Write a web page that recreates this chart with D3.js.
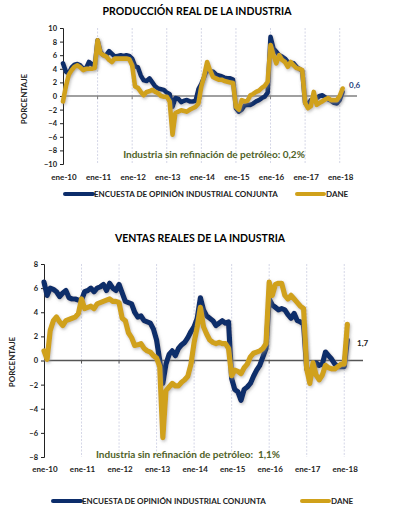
<!DOCTYPE html>
<meta charset="utf-8">
<style>
body { margin: 0; background: #fff; }
text { font-family: Lato, "Open Sans", sans-serif; }
</style>
<body>
<div class="chart"></div>
</body>
<script src="https://cdn.jsdelivr.net/npm/d3@7"></script>
<script>

var yearLabels = ["ene-10", "ene-11", "ene-12", "ene-13", "ene-14", "ene-15", "ene-16", "ene-17", "ene-18"];

// produccion real (monthly, ene-10 .. feb-18)
var prodEncuesta = [
  4.8, 3.6, 3.3, 4.2, 4.6, 4.7, 4.5, 4.0, 4.1, 5.0, 4.7, 4.3,
  8.2, 6.5, 6.0, 6.0, 6.6, 6.2, 5.8, 5.9, 6.0, 5.9, 6.0, 5.9,
  5.5, 4.4, 4.2, 3.0, 2.3, 2.2, 2.6, 2.0, 1.4, 1.1, 1.0, 0.9,
  0.5, 0.3, -1.6, -0.3, -0.4, -0.9, -0.7, -0.6, -0.8, -0.8, -0.7, 1.0,
  1.8, 2.8, 4.0, 3.6, 3.6, 3.2, 3.0, 2.9, 2.7, 2.6, 2.6, 2.4,
  -1.8, -2.3, -2.0, -1.4, -1.3, -1.3, -1.1, -0.8, -0.6, -0.3, -0.1, 0.5,
  8.7, 7.0, 6.5, 6.0, 5.8, 5.5, 5.0, 4.9, 4.8, 4.3, 4.0, 3.7,
  -1.0, -1.2, -0.6, -0.4, -0.3, 0.0, 0.1, -0.2, -0.5, -0.7, -1.0, -1.1,
  -0.6, 0.6
];
var prodDane = [
  -0.8, 1.4, 3.1, 3.8, 4.3, 4.5, 4.2, 3.8, 4.0, 4.0, 4.0, 4.1,
  8.2, 6.3, 6.0, 5.8, 5.3, 5.0, 5.5, 5.5, 5.5, 5.5, 5.5, 5.4,
  4.5, 1.4, 1.2, 0.6, 0.1, 0.6, 0.7, 0.9, 0.6, 0.4, 0.0, -0.1,
  -0.1, -0.8, -5.7, -2.5, -2.3, -2.1, -2.2, -2.3, -2.0, -1.8, -1.6, -1.1,
  1.4, 3.0, 5.0, 3.8, 2.8, 2.6, 2.4, 2.4, 2.2, 2.1, 2.0, 1.9,
  -1.6, -2.0, -0.6, -0.8, -0.7, 0.1, 0.3, 0.6, 0.8, 1.2, 1.5, 2.1,
  7.5, 6.0, 4.8, 6.0, 5.3, 5.0, 4.3, 5.0, 4.5, 4.1, 4.0, 3.8,
  -1.0, -1.8, -1.5, 0.6, -1.3, -1.0, -0.8, -0.5, -0.3, -0.6, -0.6, -0.6,
  0.0, 1.1
];

// ventas reales
var ventEncuesta = [
  6.5, 5.4, 6.0, 5.9, 5.7, 5.3, 5.6, 5.8, 5.2, 5.1, 5.1, 5.0,
  5.0, 5.7, 5.8, 6.0, 5.7, 6.0, 6.1, 6.3, 5.8, 6.4, 6.0, 5.8,
  6.3, 5.6, 4.9, 4.8, 4.7, 4.0, 3.6, 3.7, 3.3, 3.2, 3.1, 2.6,
  1.7, 0.0, -1.9, -0.3, 0.5, 0.8, 0.4, 1.0, 1.3, 1.5, 1.9, 2.4,
  2.8, 3.5, 5.2, 4.2, 3.7, 3.5, 3.3, 2.9, 3.1, 3.3, 3.1, 3.2,
  -1.5, -2.4, -2.6, -3.3, -2.4, -2.2, -1.9, -1.3, -0.8, -0.4, 0.3, 1.0,
  5.1, 4.6, 4.4, 4.2, 4.3, 4.2, 3.8, 3.5, 3.9, 3.3, 3.2, 3.0,
  -0.7, -0.8, -1.0, -0.2, -0.4, -0.3, 0.7, 0.4, 0.1, -0.3, -0.5, -0.5,
  -0.5, 1.7
];
var ventDane = [
  0.8, 0.1, 2.5, 3.3, 3.6, 3.2, 2.9, 3.3, 3.4, 3.5, 3.6, 3.9,
  5.1, 4.3, 4.4, 4.5, 4.3, 4.7, 4.8, 4.9, 5.0, 5.1, 4.9, 4.9,
  4.8, 3.5, 3.3, 2.3, 1.9, 1.25, 1.3, 1.4, 1.0, 0.8, 0.7, 0.4,
  0.2, -0.5, -6.4, -2.5, -2.2, -1.9, -2.1, -2.1, -1.8, -1.6, -1.3, -0.3,
  1.5, 2.8, 4.4, 2.8, 2.2, 1.7, 1.5, 1.4, 1.5, 1.4, 1.4, 1.0,
  -1.25, -0.8, -0.9, -1.1, -0.6, -0.3, 0.3, 0.6, 0.7, 0.8, 1.0, 1.4,
  6.5, 5.4, 6.3, 6.4, 6.4, 5.4, 5.1, 5.4, 5.1, 4.8, 4.5, 4.3,
  -0.7, -1.9, -0.2, -1.2, -1.6, -1.2, -0.4, -0.6, -0.7, -0.7, -0.5, -0.3,
  -0.3, 3.0
];

var blue = "#0c2d6b", gold = "#d0a11a", olive = "#4f6228";

var svg = d3.select(".chart").append("svg")
    .attr("width", 394)
    .attr("height", 521);

var defs = svg.append("defs");
var f = defs.append("filter").attr("id", "glow")
    .attr("x", "-5%").attr("y", "-10%").attr("width", "110%").attr("height", "120%");
f.append("feDropShadow").attr("dx", 1).attr("dy", 1.5)
    .attr("stdDeviation", 1.6).attr("flood-color", "#8a8a8a").attr("flood-opacity", 0.55);

function drawChart(cfg) {
  var g = svg.append("g");
  var x = d3.scaleLinear().domain([0, 102]).range([cfg.left, cfg.right]);
  var y = d3.scaleLinear().domain([-cfg.max, cfg.max]).range([cfg.bottom, cfg.top]);

  g.append("text")
      .attr("x", cfg.titleX).attr("y", cfg.titleY)
      .attr("text-anchor", "middle")
      .style("font-size", "10.5px").style("font-weight", "bold")
      .text(cfg.title);

  // year gridlines
  g.selectAll(".grid").data(yearLabels.slice(1)).enter().append("line")
      .attr("x1", function(d, i) { return x((i + 1) * 12); })
      .attr("x2", function(d, i) { return x((i + 1) * 12); })
      .attr("y1", cfg.top).attr("y2", cfg.bottom)
      .attr("stroke", "#c9cbe0").attr("stroke-width", 0.8)
      .attr("stroke-dasharray", "2,1.5");

  // y axis
  var yAxis = d3.axisLeft(y).tickValues(d3.range(-cfg.max, cfg.max + 1, 2))
      .tickSize(3).tickPadding(3).tickFormat(d3.format("d"));
  var ya = g.append("g").attr("transform", "translate(" + cfg.left + ",0)").call(yAxis);
  ya.select(".domain").attr("stroke", "#222").attr("stroke-width", 1);
  ya.selectAll(".tick line").attr("stroke", "#222");
  ya.selectAll("text").style("font-size", "7.5px").style("font-weight", "bold")
      .style("font-family", "Lato, sans-serif").attr("fill", "#222");

  // zero line with year ticks
  g.append("line")
      .attr("x1", cfg.left).attr("x2", cfg.right)
      .attr("y1", y(0)).attr("y2", y(0))
      .attr("stroke", cfg.zeroColor).attr("stroke-width", 1.3);
  g.selectAll(".ztick").data(yearLabels.slice(1)).enter().append("line")
      .attr("x1", function(d, i) { return x((i + 1) * 12); })
      .attr("x2", function(d, i) { return x((i + 1) * 12); })
      .attr("y1", y(0)).attr("y2", y(0) + 3)
      .attr("stroke", cfg.zeroColor).attr("stroke-width", 1);

  // x labels
  g.selectAll(".xl").data(yearLabels).enter().append("text")
      .attr("x", function(d, i) { return x(i * 12) + 1; })
      .attr("y", cfg.xLabelY)
      .attr("text-anchor", "middle")
      .style("font-size", "8px").style("font-weight", "bold").attr("fill", "#222")
      .text(function(d) { return d; });

  // y title
  g.append("text")
      .attr("transform", "translate(" + cfg.yTitleX + "," + cfg.yTitleY + ") rotate(-90)")
      .attr("text-anchor", "middle")
      .style("font-size", "8px").style("font-weight", "bold").attr("fill", "#222")
      .text("PORCENTAJE");

  var line = d3.line()
      .x(function(d, i) { return x(i); })
      .y(function(d) { return y(d); })
      .curve(d3.curveLinear);

  g.append("path").datum(cfg.encuesta)
      .attr("d", line).attr("fill", "none")
      .attr("stroke", blue).attr("stroke-width", cfg.lw)
      .attr("stroke-linejoin", "round").attr("stroke-linecap", "round")
      .attr("filter", "url(#glow)");
  g.append("path").datum(cfg.dane)
      .attr("d", line).attr("fill", "none")
      .attr("stroke", gold).attr("stroke-width", cfg.lw)
      .attr("stroke-linejoin", "round").attr("stroke-linecap", "round")
      .attr("filter", "url(#glow)");

  // end value label
  g.append("text")
      .attr("x", cfg.valX).attr("y", cfg.valY)
      .style("font-size", "8px").style("font-weight", "bold").attr("fill", cfg.valColor)
      .text(cfg.valText);

  // note
  g.append("text")
      .attr("x", cfg.noteX).attr("y", cfg.noteY)
      .attr("text-anchor", "middle")
      .style("font-size", "10px").style("font-weight", "bold").attr("fill", olive)
      .attr("xml:space", "preserve")
      .text(cfg.note);

  // legend
  var lg = g.append("g").attr("transform", "translate(0," + cfg.legendY + ")");
  lg.append("line").attr("x1", cfg.leg1).attr("x2", cfg.leg1 + 28)
      .attr("stroke", blue).attr("stroke-width", 4).attr("stroke-linecap", "round");
  lg.append("text").attr("x", cfg.leg1 + 29).attr("y", 3)
      .style("font-size", "8px").style("font-weight", "bold").attr("fill", "#222")
      .text("ENCUESTA DE OPINIÓN INDUSTRIAL CONJUNTA");
  lg.append("line").attr("x1", cfg.leg2).attr("x2", cfg.leg2 + 27)
      .attr("stroke", gold).attr("stroke-width", 4).attr("stroke-linecap", "round");
  lg.append("text").attr("x", cfg.leg2 + 29).attr("y", 3)
      .style("font-size", "8px").style("font-weight", "bold").attr("fill", "#222")
      .text("DANE");
}

drawChart({
  title: "PRODUCCIÓN REAL DE LA INDUSTRIA", titleX: 197, titleY: 15,
  left: 63, right: 357, top: 28, bottom: 164, max: 10,
  zeroColor: "#808080", xLabelY: 180, yTitleX: 27, yTitleY: 99,
  encuesta: prodEncuesta, dane: prodDane, lw: 4.6,
  valX: 349, valY: 88, valColor: "#1f3d7a", valText: "0,6",
  noteX: 214, noteY: 158, note: "Industria sin refinación de petróleo: 0,2%",
  legendY: 194, leg1: 65, leg2: 297
});

drawChart({
  title: "VENTAS REALES DE LA INDUSTRIA", titleX: 200, titleY: 242,
  left: 44, right: 363, top: 264, bottom: 457, max: 8,
  zeroColor: "#555", xLabelY: 472, yTitleX: 15, yTitleY: 362,
  encuesta: ventEncuesta, dane: ventDane, lw: 5.2,
  valX: 357, valY: 346, valColor: "#222", valText: "1,7",
  noteX: 188, noteY: 458, note: "Industria sin refinación de petróleo:  1,1%",
  legendY: 501, leg1: 53, leg2: 302
});

</script>
